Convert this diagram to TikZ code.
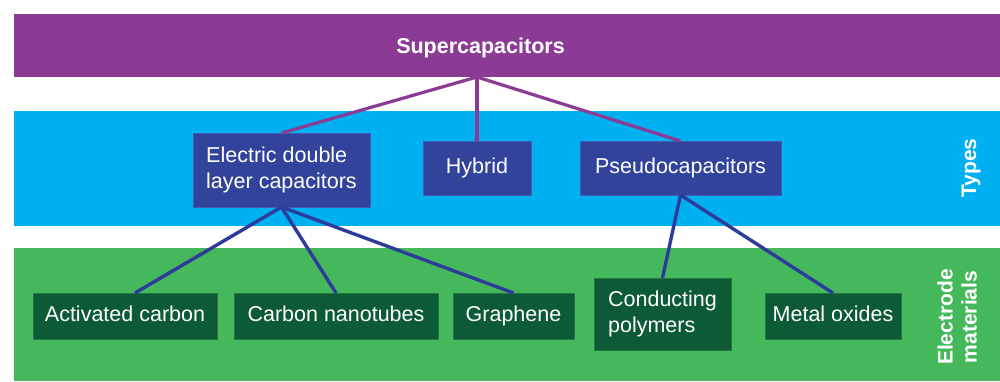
\documentclass[tikz,border=0pt]{standalone}
\usepackage{fontspec}
\setmainfont{Liberation Sans}
\usetikzlibrary{calc}

\definecolor{scpurple}{RGB}{139,59,148}
\definecolor{typeband}{RGB}{0,176,240}
\definecolor{typefill}{RGB}{50,67,155}
\definecolor{typeedge}{RGB}{62,92,182}
\definecolor{matband}{RGB}{70,184,92}
\definecolor{matfill}{RGB}{13,90,54}
\definecolor{matedge}{RGB}{36,118,68}
\definecolor{linkblue}{RGB}{45,60,155}

\begin{document}
\begin{tikzpicture}[x=1pt,y=-1pt,
  band/.style={inner sep=0pt, outer sep=0pt, anchor=north west, draw=none},
  label text/.style={text=white, font=\fontsize{21.5}{26}\selectfont, inner sep=0pt},
  side text/.style={text=white, font=\fontsize{21}{24}\selectfont\bfseries,
    rotate=90, align=center, inner sep=0pt},
  typebox/.style={fill=typefill, draw=typeedge, line width=0.8pt, text=white,
    font=\fontsize{21.5}{26}\selectfont, inner sep=0pt, outer sep=0pt, align=left},
  matbox/.style={fill=matfill, draw=matedge, line width=0.8pt, text=white,
    font=\fontsize{21.5}{26}\selectfont, inner sep=0pt, outer sep=0pt, align=left},
  oneline/.style={text height=15.5pt, text depth=4.5pt},
  toplink/.style={draw=scpurple, line width=3.2pt},
  lowlink/.style={draw=linkblue, line width=3.4pt}
]
\useasboundingbox (0,0) rectangle (1000,381);
\fill[white] (0,0) rectangle (1000,381);

% background bands
\node[band, fill=scpurple, minimum width=986pt, minimum height=63pt] (super) at (14,14) {};
\node[band, fill=typeband, minimum width=986pt, minimum height=115pt] (types) at (14,111) {};
\node[band, fill=matband, minimum width=986pt, minimum height=133pt] (mats) at (14,248) {};

% band titles
\node[label text, font=\fontsize{21.5}{26}\selectfont\bfseries, anchor=base] (sctitle) at (480.5,53) {Supercapacitors};
\node[side text] (typestitle) at (971,168) {Types};
\node[side text] (matstitle) at (957,317) {Electrode\\materials};

% hub point under the title
\coordinate (hub) at (477,77);

% types
\node[typebox, minimum width=177pt, minimum height=74pt] (edlc) at (281.5,170) {Electric double\\layer capacitors};
\node[typebox, oneline, minimum width=108pt, minimum height=54pt] (hybrid) at (477,168) {Hybrid};
\node[typebox, oneline, minimum width=201pt, minimum height=54pt] (pseudo) at (680.5,168) {Pseudocapacitors};

% electrode materials
\node[matbox, oneline, minimum width=184pt, minimum height=46pt] (actc) at (125,316) {Activated carbon};
\node[matbox, oneline, minimum width=204pt, minimum height=46pt] (cnt) at (336,316) {Carbon nanotubes};
\node[matbox, oneline, minimum width=121pt, minimum height=46pt] (graph) at (513.5,316) {Graphene};
\node[matbox, minimum width=137pt, minimum height=72pt] (cpoly) at (662.5,314) {Conducting\\polymers};
\node[matbox, oneline, minimum width=136pt, minimum height=46pt] (moxide) at (833,316) {Metal oxides};

% connectors
\draw[toplink] (hub) -- (edlc.north);
\draw[toplink] (hub) -- (hybrid.north);
\draw[toplink] (hub) -- (pseudo.north);

\draw[lowlink] (edlc.south) -- ([xshift=10pt]actc.north);
\draw[lowlink] (edlc.south) -- (cnt.north);
\draw[lowlink] (edlc.south) -- (graph.north);
\draw[lowlink] (pseudo.south) -- (cpoly.north);
\draw[lowlink] (pseudo.south) -- (moxide.north);
\end{tikzpicture}
\end{document}
